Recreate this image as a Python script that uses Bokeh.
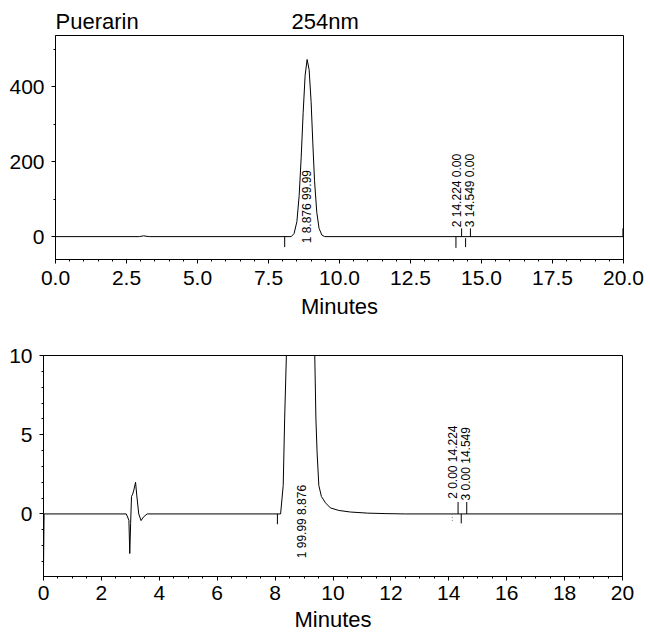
from bokeh.plotting import figure
from bokeh.models import (Range1d, SingleIntervalTicker, PrintfTickFormatter,
                          ColumnDataSource)
from bokeh.embed import file_html
from bokeh.resources import INLINE
from bokeh.core.properties import value

FONT = "Liberation Sans"

# ---------------- data ----------------
# Top chromatogram (full scale, 254 nm)
top_time = [0.0, 2.95, 3.10, 3.30, 8.30, 8.40, 8.50, 8.58, 8.65, 8.72, 8.79,
            8.86, 8.93, 9.00, 9.06, 9.12, 9.20, 9.28, 9.38, 9.48, 20.0]
top_signal = [0, 0, 2, 0, 0, 8, 40, 110, 210, 330, 430,
              472, 445, 360, 250, 150, 65, 22, 4, 0, 0]

# integration marks on the top trace
top_mark_x = [8.07, 14.10, 14.30, 14.44, 14.61, 19.98]
top_mark_y0 = [0, 0, 0, -4, 0, 0]
top_mark_y1 = [-28, -30, 22, -28, 22, 22]

# peak annotations on the top trace
top_label_x = [8.87, 14.12, 14.58]
top_label_y = [-18, 25, 25]
top_label_text = ["1 8.876 99.99", "2 14.224 0.00", "3 14.549 0.00"]

# Bottom chromatogram (expanded scale)
bottom_time = [0.0, 0.02, 2.86, 2.95, 2.98, 3.01, 3.04, 3.08, 3.12, 3.18,
               3.22, 3.29, 3.37, 3.45, 3.58, 8.19, 8.28, 8.33, 8.39, 8.50,
               8.88, 9.25, 9.37, 9.41, 9.45, 9.51, 9.60, 9.74, 9.91, 10.2,
               10.6, 11.2, 11.8, 12.5, 20.0]
bottom_signal = [-3.4, 0.0, 0.0, -0.4, -2.5, -0.6, 1.1, 1.25, 1.5, 2.0,
                 1.2, 0.0, -0.42, -0.2, 0.0, 0.0, 1.8, 6.0, 10.0, 40.0,
                 472.0, 40.0, 10.0, 6.0, 3.9, 1.8, 1.1, 0.7, 0.38, 0.22,
                 0.12, 0.05, 0.02, 0.0, 0.0]

bottom_mark_x = [8.08, 14.32, 14.43, 14.62]
bottom_mark_y0 = [0, 0, 0, 0]
bottom_mark_y1 = [-0.65, 0.75, -0.6, 0.75]
bottom_faint_x = [14.12]
bottom_faint_y1 = [-0.5]

bottom_label_x = [8.93, 14.15, 14.58]
bottom_label_y = [-2.8, 0.95, 0.85]
bottom_label_text = ["1 99.99 8.876", "2 0.00 14.224", "3 0.00 14.549"]

title_left = "Puerarin"
title_right = "254nm"
x_label = "Minutes"


def style(p, xinterval, xminor, yinterval, yminor, xfmt, label_standoff,
          axis_label_standoff):
    p.grid.visible = False
    p.outline_line_color = "black"
    p.outline_line_width = 1
    p.background_fill_color = "white"
    p.border_fill_color = "white"
    xa = p.xaxis[0]
    ya = p.yaxis[0]
    xa.ticker = SingleIntervalTicker(interval=xinterval, num_minor_ticks=xminor)
    ya.ticker = SingleIntervalTicker(interval=yinterval, num_minor_ticks=yminor)
    if xfmt:
        xa.formatter = PrintfTickFormatter(format=xfmt)
    for ax in (xa, ya):
        ax.axis_line_color = "black"
        ax.major_tick_line_color = "black"
        ax.minor_tick_line_color = "black"
        ax.major_tick_in = 0
        ax.minor_tick_in = 0
        ax.major_tick_out = 4
        ax.minor_tick_out = 2
        ax.major_label_text_font = FONT
        ax.major_label_text_font_size = "21px"
        ax.major_label_text_color = "black"
    xa.major_label_standoff = label_standoff
    ya.major_label_standoff = 7
    xa.axis_label = x_label
    xa.axis_label_text_font = FONT
    xa.axis_label_text_font_size = "22px"
    xa.axis_label_text_font_style = "normal"
    xa.axis_label_text_color = "black"
    xa.axis_label_standoff = axis_label_standoff


# ---------------- top panel ----------------
p1 = figure(frame_width=568, frame_height=224,
            min_border_left=55, min_border_right=27, min_border_top=35,
            min_border_bottom=40,
            x_range=Range1d(0, 20), y_range=Range1d(-61, 536),
            output_backend="svg", toolbar_location=None)
style(p1, 2.5, 5, 200, 2, "%.1f", 7, 6)

p1.title.text = title_left + "\u00a0" * 25 + title_right
p1.title.align = "left"
p1.title.text_font = FONT
p1.title.text_font_size = "22px"
p1.title.text_font_style = "normal"
p1.title.text_color = "black"
p1.title.standoff = 3

p1.line(top_time, top_signal, line_color="black", line_width=1)
p1.segment(x0=top_mark_x, y0=top_mark_y0, x1=top_mark_x, y1=top_mark_y1,
           line_color="black", line_width=1)
src1 = ColumnDataSource(dict(x=top_label_x, y=top_label_y, t=top_label_text))
p1.text(x="x", y="y", text="t", source=src1, angle=1.5708,
        text_align="left", text_baseline="middle",
        text_font=value(FONT), text_font_size="12px", text_color="black")

# ---------------- bottom panel ----------------
p2 = figure(frame_width=579, frame_height=221,
            min_border_left=43, min_border_right=28, min_border_top=34,
            min_border_bottom=40,
            x_range=Range1d(0, 20), y_range=Range1d(-3.95, 10),
            output_backend="svg", toolbar_location=None)
style(p2, 2, 4, 5, 5, None, 5, 4)

p2.line(bottom_time, bottom_signal, line_color="black", line_width=1)
p2.segment(x0=bottom_mark_x, y0=bottom_mark_y0, x1=bottom_mark_x,
           y1=bottom_mark_y1, line_color="black", line_width=1)
p2.segment(x0=bottom_faint_x, y0=[0], x1=bottom_faint_x, y1=bottom_faint_y1,
           line_color="#777777", line_width=1, line_dash="1 2")
src2 = ColumnDataSource(dict(x=bottom_label_x, y=bottom_label_y,
                             t=bottom_label_text))
p2.text(x="x", y="y", text="t", source=src2, angle=1.5708,
        text_align="left", text_baseline="middle",
        text_font=value(FONT), text_font_size="12px", text_color="black")

open("out.html", "w").write(file_html([p1, p2], INLINE))
